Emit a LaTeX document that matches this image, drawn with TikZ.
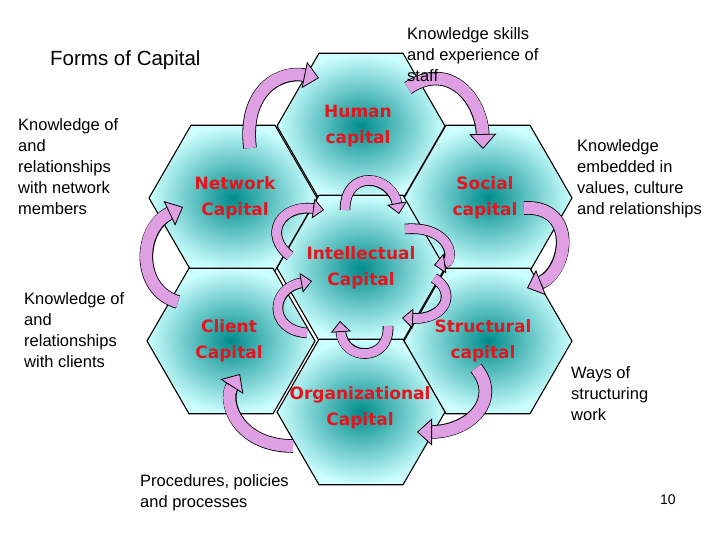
\documentclass[tikz,border=0pt]{standalone}
\usepackage{fontspec}
\setmainfont{Liberation Sans}
\newfontfamily\labfont{DejaVu Sans}
\usetikzlibrary{shapes.geometric,arrows.meta}
\definecolor{hexin}{RGB}{0,140,140}
\definecolor{hexout}{RGB}{205,255,255}
\definecolor{arrfill}{RGB}{222,160,226}
\definecolor{labred}{RGB}{230,20,30}
\tikzset{
  hexa/.style={regular polygon, regular polygon sides=6, minimum size=168pt, draw=black, line width=1.1pt,
     inner color=hexin, outer color=hexout, inner sep=0pt},
  hexlab/.style={font=\labfont\bfseries\fontsize{17}{26}\selectfont, text=labred, align=center, inner sep=0pt},
  txt/.style={font=\fontsize{16.5}{21}\selectfont, align=left, anchor=north west, inner sep=0pt},
  bigarrow/.style={line width=12pt, arrfill, -{Triangle[width=27pt,length=15pt,line width=0.8pt,color=black,fill=arrfill]}},
  bigback/.style={line width=13.6pt, black, shorten >=13pt},
  smallarrow/.style={line width=9pt, arrfill, -{Triangle[width=20pt,length=11pt,line width=0.8pt,color=black,fill=arrfill]}},
  smallback/.style={line width=10.6pt, black, shorten >=9.5pt}
}
\newcommand{\curvearrow}[3]{\draw[#1back] #2; \draw[#1arrow] #2;}
\newcommand{\hexcell}[4]{\node[hexa] (#1) at (#2) {}; \node[hexlab] (#1-t) at (#3) {#4};}
\begin{document}
\begin{tikzpicture}[x=1pt,y=-1pt]
\useasboundingbox[fill=white] (0,0) rectangle (720,540);
\hexcell{human}{361,126}{358,126}{Human\\capital}
\hexcell{network}{233,198}{235,198}{Network\\Capital}
\hexcell{social}{488,198}{485,198}{Social\\capital}
\hexcell{intel}{361,268}{361,268}{Intellectual\\Capital}
\hexcell{client}{231,341}{229,341}{Client\\Capital}
\hexcell{struct}{488,341}{483,341}{Structural\\capital}
\hexcell{org}{361,412}{360,408}{Organizational\\Capital}
% outer arrows
\curvearrow{big}{(250,148) .. controls (243,90) and (280,70) .. (319,78)}{}
\curvearrow{big}{(408,88) .. controls (450,60) and (482,100) .. (483,149)}{}
\curvearrow{big}{(524,208) .. controls (578,205) and (568,272) .. (527,288)}{}
\curvearrow{big}{(476,368) .. controls (502,400) and (470,432) .. (417,432)}{}
\curvearrow{big}{(293,446) .. controls (238,446) and (222,402) .. (240,374)}{}
\curvearrow{big}{(178,302) .. controls (136,290) and (138,228) .. (183,207)}{}
% inner arrows
\curvearrow{small}{(345,210) .. controls (345,168) and (392,175) .. (399,214)}{}
\curvearrow{small}{(405,229) .. controls (452,225) and (456,262) .. (434,265)}{}
\curvearrow{small}{(434,278) .. controls (457,292) and (446,320) .. (402,318)}{}
\curvearrow{small}{(388,326) .. controls (390,362) and (343,362) .. (340,321)}{}
\curvearrow{small}{(307,333) .. controls (268,330) and (270,288) .. (312,281)}{}
\curvearrow{small}{(290,256) .. controls (263,235) and (280,204) .. (324,210)}{}
% texts
\node[txt, font=\fontsize{20.5}{22}\selectfont] (title) at (50,50) {Forms of Capital};
\node[txt] (t1) at (407,27) {Knowledge skills\\and experience of\\staff};
\node[txt] (t2) at (18,118) {Knowledge of\\and\\relationships\\with network\\members};
\node[txt] (t3) at (24,292) {Knowledge of\\and\\relationships\\with clients};
\node[txt] (t4) at (577,139) {Knowledge\\embedded in\\values, culture\\and relationships};
\node[txt] (t5) at (571,366) {Ways of\\structuring\\work};
\node[txt] (t6) at (140,474) {Procedures, policies\\and processes};
\node[txt, font=\fontsize{14}{15}\selectfont] (pg) at (660,495) {10};
\end{tikzpicture}
\end{document}
